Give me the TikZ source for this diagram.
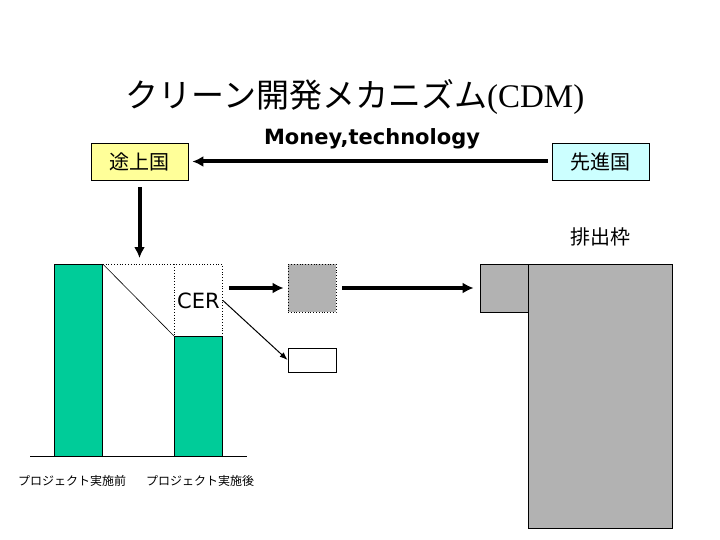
\documentclass[tikz,border=0pt]{standalone}
\usepackage{fontspec}
\setmainfont{Liberation Serif}
\newfontfamily\jpfont{Noto Sans CJK JP}
\newfontfamily\sansfont{DejaVu Sans}
\usetikzlibrary{positioning,arrows.meta}
\definecolor{barGreen}{RGB}{0,204,153}
\definecolor{creditGray}{RGB}{178,178,178}
\definecolor{devYellow}{RGB}{255,255,153}
\definecolor{indCyan}{RGB}{204,255,255}
\tikzset{
  country/.style={draw,line width=0.8pt,inner sep=0pt,minimum width=97pt,minimum height=37pt,
    font=\jpfont\fontsize{20}{24}\selectfont},
  bar/.style={draw,line width=0.8pt,fill=barGreen,inner sep=0pt,minimum width=48pt},
  graybox/.style={draw,line width=0.8pt,fill=creditGray,inner sep=0pt},
  bigarrow/.style={-{Latex[length=11pt,width=11pt]},line width=4pt},
  thinarrow/.style={-{Latex[length=8pt,width=6pt]},line width=1pt},
}
\begin{document}
\begin{tikzpicture}[x=1pt,y=-1pt]
\useasboundingbox (0,0) rectangle (720,540);
% title
\node (title) at (355,97) {\fontsize{33}{39}\selectfont{\jpfont クリーン開発メカニズム}(CDM)};
\node (money) at (372,139) {\sansfont\bfseries\fontsize{21}{25}\selectfont Money,technology};
% countries
\node[country,fill=devYellow] (dev) at (139.5,161.5) {途上国};
\node[country,fill=indCyan] (ind) at (600.5,161.5) {先進国};
\node[font=\jpfont\fontsize{20}{24}\selectfont] (cap label) at (600,237) {排出枠};
% project bars
\node[draw,dotted,line width=0.8pt,anchor=north west,minimum width=48pt,minimum height=72pt,
  inner sep=0pt,font=\sansfont\fontsize{21}{25}\selectfont] (cerpart) at (174,264) {CER};
\node[bar,anchor=north west,minimum height=192pt] (before) at (54,264) {};
\node[bar,anchor=north west,minimum height=120pt] (after) at (174,336) {};
\draw[dotted,line width=0.8pt] (before.north east) -- (cerpart.north west);
\draw[line width=0.6pt] (before.north east) -- (after.north west);
\coordinate (base west) at (30,456);
\coordinate (base east) at (247,456);
\draw[line width=1pt] (base west) -- (base east);
\node[font=\jpfont\fontsize{12}{14}\selectfont] (before label) at (72,481) {プロジェクト実施前};
\node[font=\jpfont\fontsize{12}{14}\selectfont] (after label) at (200,481) {プロジェクト実施後};
% credits
\node[graybox,dotted,minimum width=48pt,minimum height=48pt] (credit) at (312,288) {};
\node[draw,line width=0.8pt,fill=white,inner sep=0pt,minimum width=48pt,minimum height=24pt] (rest) at (312,360) {};
\node[graybox,minimum width=48pt,minimum height=48pt] (transfer) at (504,288) {};
\node[graybox,anchor=north west,minimum width=144pt,minimum height=264pt] (cap) at (528,264) {};
% arrows
\draw[bigarrow,shorten <=4pt,shorten >=4pt] (ind.west) -- (dev.east);
\draw[bigarrow,shorten <=7pt,shorten >=6pt] (dev.south) -- (dev.south |- before.north);
\draw[bigarrow,shorten <=6pt,shorten >=4pt] (cerpart.east |- credit.west) -- (credit.west);
\draw[bigarrow,shorten <=6pt,shorten >=6pt] (credit.east) -- (transfer.west);
\draw[thinarrow] (cerpart.east) -- (rest.west);
\end{tikzpicture}
\end{document}
